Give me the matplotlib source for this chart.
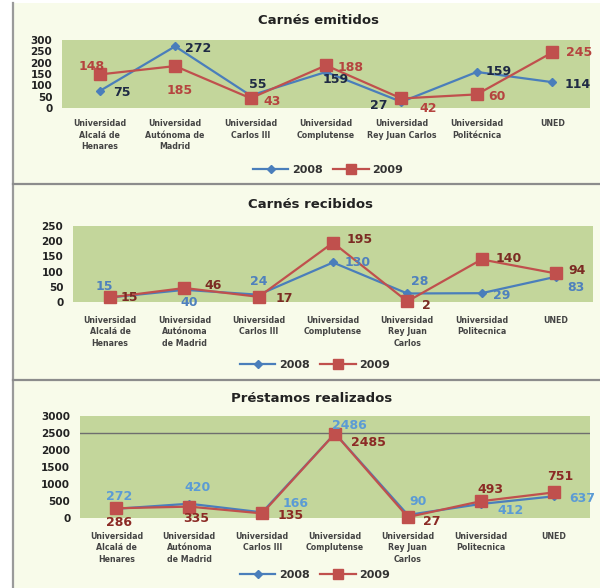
import matplotlib
matplotlib.use("Agg")
import matplotlib.pyplot as plt
from matplotlib.patches import Rectangle
from matplotlib.lines import Line2D

# ---------------- data ----------------
cats_1 = ["Universidad\nAlcalá de\nHenares", "Universidad\nAutónoma de\nMadrid",
          "Universidad\nCarlos III", "Universidad\nComplutense",
          "Universidad\nRey Juan Carlos", "Universidad\nPolitécnica", "UNED"]
cats_2 = ["Universidad\nAlcalá de\nHenares", "Universidad\nAutónoma\nde Madrid",
          "Universidad\nCarlos III", "Universidad\nComplutense",
          "Universidad\nRey Juan\nCarlos", "Universidad\nPolitecnica", "UNED"]
cats_3 = cats_2

titles = ["Carnés emitidos", "Carnés recibidos", "Préstamos realizados"]
series_names = ["2008", "2009"]

emitidos_2008 = [75, 272, 55, 159, 27, 159, 114]
emitidos_2009 = [148, 185, 43, 188, 42, 60, 245]
recibidos_2008 = [15, 40, 24, 130, 28, 29, 83]
recibidos_2009 = [15, 46, 17, 195, 2, 140, 94]
prestamos_2008 = [272, 420, 166, 2486, 90, 412, 637]
prestamos_2009 = [286, 335, 135, 2485, 27, 493, 751]

yticks_1 = [0, 50, 100, 150, 200, 250, 300]
yticks_2 = [0, 50, 100, 150, 200, 250]
yticks_3 = [0, 500, 1000, 1500, 2000, 2500, 3000]

# label offsets in pixels (dx, dy up)
off1_08 = [(22, -2), (23, -2), (7, 11), (10, -8), (-23, -4), (22, 0), (25, -2)]
off1_09 = [(-8, 8), (4, -24), (22, -3), (25, -2), (27, -10), (20, -2), (27, 0)]
off2_08 = [(-6, 11), (5, -13), (0, 13), (25, 0), (12, 12), (20, -2), (20, -11)]
off2_09 = [(19, 0), (29, 3), (26, -2), (27, 3), (19, -4), (27, 1), (21, 3)]
off3_08 = [(3, 12), (8, 16), (33, 9), (14, 8), (10, 13), (30, -7), (29, -2)]
off3_09 = [(3, -14), (7, -12), (28, -2), (33, -9), (24, -4), (10, 12), (7, 16)]

W, H = 600, 588
BLUE = "#4a7ebb"
RED = "#c0504d"
GREEN = "#c3d69b"
CREAM = "#f8fbea"

fig = plt.figure(figsize=(6, 5.88), dpi=100)
fig.patch.set_facecolor("white")

# panel backgrounds and borders
fig.add_artist(Rectangle((14 / W, 0), 1 - 14 / W, 1 - 3 / H, transform=fig.transFigure,
                         facecolor=CREAM, edgecolor="none", zorder=0))
fig.add_artist(Line2D([13 / W, 13 / W], [0, 1 - 3 / H], transform=fig.transFigure,
                      color="#9a9a9a", lw=1.6))
for yy in (184, 380):
    fig.add_artist(Line2D([13 / W, 1], [1 - yy / H, 1 - yy / H], transform=fig.transFigure,
                          color="#8c8c8c", lw=1.6))


def make_panel(rect, cats, d08, d09, yticks, title, title_x, title_y, off08, off09,
               c08, c09, lab_pad, legend_y, legend_x, grid=None):
    left, right, top, bottom = rect
    ax = fig.add_axes([left / W, 1 - bottom / H, (right - left) / W, (bottom - top) / H])
    ax.set_facecolor(GREEN)
    for s in ax.spines.values():
        s.set_visible(False)
    x = list(range(len(cats)))
    if grid is not None:
        ax.axhline(grid, color="#6e6e6e", lw=1.0, zorder=1)
    l1, = ax.plot(x, d08, color=BLUE, lw=1.6, marker="D", markersize=4.5,
                  markerfacecolor=BLUE, markeredgecolor=BLUE, zorder=3, clip_on=False)
    l2, = ax.plot(x, d09, color=RED, lw=1.6, marker="s", markersize=8,
                  markerfacecolor=RED, markeredgecolor=RED, zorder=4, clip_on=False)
    ax.set_xlim(-0.5, len(cats) - 0.5)
    ax.set_ylim(yticks[0], yticks[-1])
    ax.set_yticks(yticks)
    ax.set_yticklabels([str(t) for t in yticks], fontsize=7.5, fontweight="bold", color="#222222")
    ax.set_xticks(x)
    ax.set_xticklabels(cats, fontsize=5.7, fontweight="bold", color="#444444",
                       linespacing=1.35, va="top")
    ax.tick_params(axis="both", length=0)
    ax.tick_params(axis="x", pad=lab_pad)
    ax.tick_params(axis="y", pad=7)
    for xi, v, (dx, dy) in zip(x, d08, off08):
        ax.annotate(str(v), (xi, v), xytext=(dx, dy), textcoords="offset pixels",
                    ha="center", va="center", fontsize=9, fontweight="bold", color=c08, zorder=5,
                    annotation_clip=False)
    for xi, v, (dx, dy) in zip(x, d09, off09):
        ax.annotate(str(v), (xi, v), xytext=(dx, dy), textcoords="offset pixels",
                    ha="center", va="center", fontsize=9, fontweight="bold", color=c09, zorder=5,
                    annotation_clip=False)
    fig.text(title_x / W, 1 - title_y / H, title,
             ha="center", va="center", fontsize=9.5, fontweight="bold", color="#222222")
    fig.legend([l1, l2], series_names, loc="center", ncol=2,
               bbox_to_anchor=(legend_x / W, 1 - legend_y / H), frameon=False,
               prop={"size": 8, "weight": "bold"}, handlelength=3.2, columnspacing=1.0,
               handletextpad=0.3, labelcolor="#333333", markerscale=0.85)
    return ax


make_panel((62, 590, 40, 108), cats_1, emitidos_2008, emitidos_2009, yticks_1,
           titles[0], 318, 20, off1_08, off1_09, "#1f2a44", "#b5443f",
           lab_pad=8, legend_y=170, legend_x=328)
make_panel((73, 593, 226, 302), cats_2, recibidos_2008, recibidos_2009, yticks_2,
           titles[1], 311, 205, off2_08, off2_09, "#4f81bd", "#7b2b23",
           lab_pad=10, legend_y=365, legend_x=315)
make_panel((80, 590, 416, 518), cats_3, prestamos_2008, prestamos_2009, yticks_3,
           titles[2], 312, 398, off3_08, off3_09, "#5b9bd5", "#8b2a25",
           lab_pad=10, legend_y=575, legend_x=315, grid=2500)

fig.savefig("out.png", dpi=100)
